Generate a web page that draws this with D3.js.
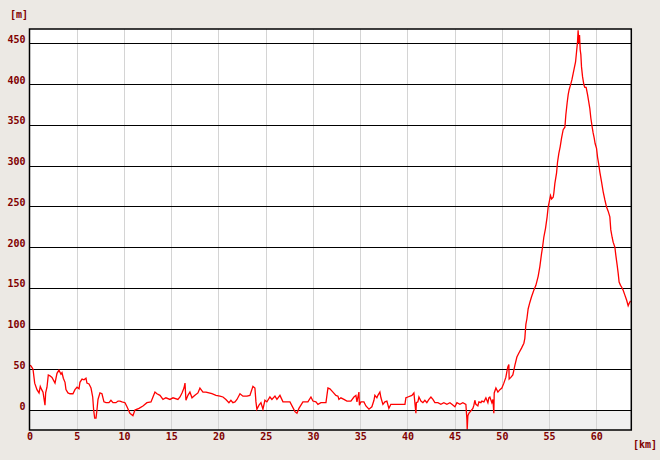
<!DOCTYPE html>
<html>
<head>
<meta charset="utf-8">
<script src="https://cdn.jsdelivr.net/npm/d3@7"></script>
<style>
  body { margin: 0; background: #ece9e4; }
  svg { display: block; }
  .lbl { font-family: "DejaVu Sans Mono", monospace; font-weight: bold; font-size: 10px; fill: #800000; }
</style>
</head>
<body>
<svg width="660" height="460"></svg>
<script>
// distance along track [km]
var dist = [0.05,0.16,0.37,0.55,0.79,1.01,1.14,1.29,1.43,1.64,1.71,1.85,1.99,2.17,2.38,2.70,2.91,3.12,3.33,3.44,
  3.58,3.76,3.86,4.07,4.29,4.60,4.81,5.03,5.24,5.34,5.56,5.77,5.98,6.08,6.30,6.51,6.69,6.79,6.90,7.04,
  7.14,7.25,7.46,7.67,7.88,8.10,8.41,8.62,8.84,9.15,9.37,9.58,9.79,10.11,10.32,10.63,10.95,11.16,11.59,12.01,
  12.43,12.86,13.07,13.28,13.49,13.81,14.13,14.44,14.87,15.19,15.71,15.93,16.14,16.35,16.46,16.56,16.77,16.98,17.20,17.51,
  17.83,18.04,18.36,18.68,18.99,19.31,19.74,20.16,20.48,20.79,21.11,21.32,21.53,21.75,21.96,22.28,22.59,23.02,23.33,23.65,
  23.86,23.97,24.07,24.29,24.50,24.71,24.92,25.13,25.45,25.66,25.98,26.19,26.51,26.83,27.14,27.57,28.10,28.31,28.52,28.94,
  29.47,29.79,30.00,30.32,30.53,30.85,31.38,31.59,31.80,32.12,32.43,32.65,32.75,32.96,33.28,33.60,34.02,34.34,34.55,34.66,
  34.87,34.92,35.08,35.40,35.61,35.93,36.24,36.46,36.56,36.77,36.88,37.09,37.20,37.41,37.62,37.83,38.04,38.25,39.74,39.84,
  40.05,40.48,40.69,40.90,40.95,41.11,41.22,41.43,41.64,41.85,42.06,42.28,42.49,42.70,42.91,43.23,43.54,43.86,44.18,44.50,
  44.71,45.03,45.24,45.56,45.87,46.19,46.30,46.33,46.40,46.51,46.72,46.93,47.04,47.14,47.25,47.46,47.57,47.78,47.88,48.10,
  48.31,48.52,48.62,48.73,48.94,49.05,49.15,49.19,49.37,49.58,49.79,50.00,50.21,50.42,50.53,50.63,50.74,50.77,50.95,51.16,
  51.27,51.38,51.59,51.80,52.08,52.33,52.43,52.54,52.65,52.78,52.96,53.14,53.38,53.60,53.84,54.02,54.20,54.31,54.44,54.62,
  54.79,54.90,55.01,55.15,55.26,55.43,55.50,55.61,55.79,55.89,56.03,56.17,56.32,56.49,56.67,56.77,56.91,57.02,57.12,57.27,
  57.41,57.55,57.69,57.80,57.90,58.01,58.07,58.15,58.22,58.29,58.36,58.43,58.54,58.68,58.78,58.92,59.07,59.17,59.31,59.42,
  59.56,59.66,59.77,59.87,60.02,60.13,60.26,60.37,60.55,60.72,60.90,61.08,61.25,61.43,61.53,61.67,61.78,61.96,62.06,62.20,
  62.31,62.41,62.56,62.67,62.84,63.02,63.20,63.37,63.48,63.62];

// elevation [m]
var elev = [55,54,50,33,25,21,29,25,22,6,21,28,43,42,40,33,45,49,44,46,
  39,34,25,21,20,20,25,28,26,34,38,37,39,33,32,27,16,0,-10,-10,
  0,13,21,20,10,9,9,12,9,9,11,11,10,9,4,-4,-7,0,2,5,
  9,10,16,22,20,18,13,15,13,15,13,16,21,27,33,12,18,22,15,18,
  21,27,22,22,21,20,18,17,16,13,9,12,9,10,13,20,17,17,18,29,
  27,10,1,6,9,1,12,10,16,13,17,13,18,10,10,10,-2,-4,2,10,
  10,16,11,10,7,9,9,27,26,22,18,17,13,15,13,11,11,16,18,10,
  22,6,10,10,5,1,4,12,18,15,18,22,15,7,10,11,2,7,7,15,
  16,18,21,-4,9,10,16,11,9,12,9,13,16,13,9,9,7,9,7,9,
  7,4,9,7,9,7,-12,-24,-7,-4,-1,2,6,12,7,5,10,9,11,10,
  15,9,15,16,9,13,-4,21,27,22,25,27,33,40,47,53,56,38,40,43,
  49,55,65,70,76,82,88,105,112,124,132,139,147,153,164,176,192,200,212,223,
  237,249,255,263,259,261,266,278,291,304,315,323,334,344,347,362,377,387,393,399,
  405,413,421,427,439,452,466,450,460,442,436,421,409,399,396,396,387,380,370,358,
  347,340,334,327,321,310,301,292,280,268,258,249,244,237,221,212,206,200,190,178,
  168,157,153,151,147,141,135,128,131,134];

var xTicks = [0, 5, 10, 15, 20, 25, 30, 35, 40, 45, 50, 55, 60];
var yTicks = [0, 50, 100, 150, 200, 250, 300, 350, 400, 450];

var svg = d3.select("svg");

var x = d3.scaleLinear().domain([0, 63.7]).range([29.5, 631.3]);
var y = d3.scaleLinear().domain([-24.5, 467.5]).range([430, 29]);

var plotL = x.range()[0], plotR = x.range()[1];
var plotT = y.range()[1], plotB = y.range()[0];

// plot background, grey below sea level
svg.append("rect")
    .attr("x", plotL).attr("y", plotT)
    .attr("width", plotR - plotL).attr("height", plotB - plotT)
    .attr("fill", "#ffffff");
svg.append("rect")
    .attr("x", plotL).attr("y", y(0))
    .attr("width", plotR - plotL).attr("height", plotB - y(0))
    .attr("fill", "#f0f0f0");

// vertical grid (grey)
var vgrid = svg.append("g")
    .attr("transform", `translate(0,${plotB})`)
    .call(d3.axisBottom(x).tickValues(xTicks.filter(d => d > 0)).tickSize(-(plotB - plotT)).tickFormat(""));
vgrid.select(".domain").remove();
vgrid.selectAll("line").attr("stroke", "#d4d4d4").attr("shape-rendering", "crispEdges");

// horizontal grid (black)
var hgrid = svg.append("g")
    .attr("transform", `translate(${plotL},0)`)
    .call(d3.axisLeft(y).tickValues(yTicks).tickSize(-(plotR - plotL)).tickFormat(""));
hgrid.select(".domain").remove();
hgrid.selectAll("line").attr("stroke", "#000").attr("shape-rendering", "crispEdges");

// the profile
var line = d3.line()
    .x((d, i) => x(dist[i]))
    .y(d => y(d));

svg.append("path")
    .datum(elev)
    .attr("fill", "none")
    .attr("stroke", "#ff0000")
    .attr("stroke-width", 1.3)
    .attr("d", line);

// frame
svg.append("rect")
    .attr("x", plotL).attr("y", plotT)
    .attr("width", plotR - plotL).attr("height", plotB - plotT)
    .attr("fill", "none")
    .attr("stroke", "#000")
    .attr("stroke-width", 1.5);

// tick labels
var xAx = svg.append("g")
    .attr("transform", `translate(0,${plotB})`)
    .call(d3.axisBottom(x).tickValues(xTicks).tickSize(0).tickPadding(3));
xAx.select(".domain").remove();
xAx.selectAll("text").attr("class", "lbl").attr("font-family", null).attr("font-size", null);

var yAx = svg.append("g")
    .attr("transform", `translate(${plotL},0)`)
    .call(d3.axisLeft(y).tickValues(yTicks).tickSize(0).tickPadding(4));
yAx.select(".domain").remove();
yAx.selectAll("text").attr("class", "lbl").attr("font-family", null).attr("font-size", null)
    .attr("dy", "-0.1em");

// units
svg.append("text").attr("class", "lbl").attr("x", 10).attr("y", 18).text("[m]");
svg.append("text").attr("class", "lbl").attr("x", 633).attr("y", 448).text("[km]");
</script>
</body>
</html>
